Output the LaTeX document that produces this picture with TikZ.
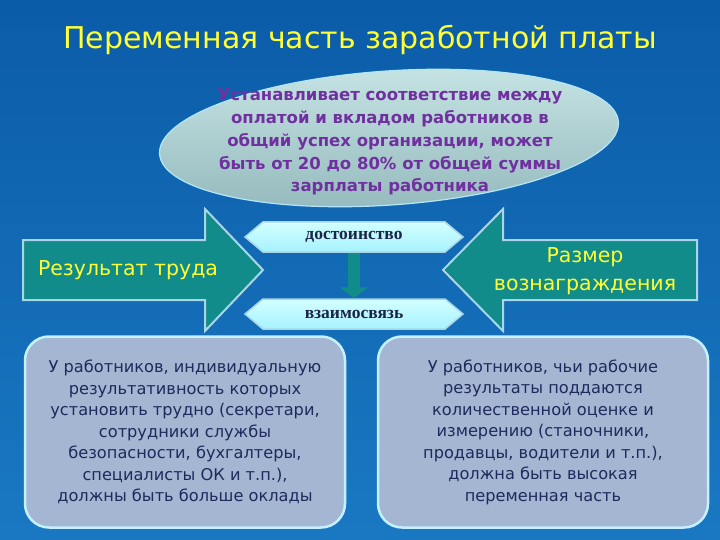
\documentclass[tikz,border=0pt]{standalone}
\usepackage{fontspec}
\setmainfont{DejaVu Sans}
\newfontfamily\hexfont{Liberation Serif}
\usetikzlibrary{shapes.symbols,arrows.meta}
\definecolor{bgtop}{HTML}{0B5CA8}
\definecolor{bgbottom}{HTML}{1A78C2}
\definecolor{titleyellow}{HTML}{FFFF33}
\definecolor{goalpurple}{HTML}{7030A0}
\definecolor{goaltop}{HTML}{C4E2E2}
\definecolor{goalmid}{HTML}{D6ECEC}
\definecolor{goalbottom}{HTML}{94B9BC}
\definecolor{arrowteal}{HTML}{128C8A}
\definecolor{arrowedge}{HTML}{A9D6E6}
\definecolor{hextop}{HTML}{D2FFFF}
\definecolor{hexbottom}{HTML}{A6F2FF}
\definecolor{hextext}{HTML}{1B2548}
\definecolor{boxfill}{HTML}{A4B6D2}
\definecolor{boxedge}{HTML}{C5F0FF}
\definecolor{boxtext}{HTML}{1F2A5C}

\begin{document}
\begin{tikzpicture}[x=1pt, y=-1pt,
    bigarrow/.style={fill=arrowteal, draw=arrowedge, line width=2pt},
    arrowlabel/.style={text=titleyellow, align=center, font=\fontsize{20.5}{28}\selectfont},
    hexbox/.style={signal, signal to=west and east, signal pointer angle=80,
      minimum width=218pt, minimum height=30pt, inner sep=0pt,
      draw=arrowedge, line width=1.5pt, top color=hextop, bottom color=hexbottom,
      text=hextext, font=\hexfont\bfseries\fontsize{17.5}{20}\selectfont},
    infobox/.style={rounded corners=24pt, draw=boxedge, line width=2.5pt,
      fill=boxfill, minimum height=191pt, align=center, text=boxtext,
      font=\fontsize{16.2}{21.5}\selectfont}]
    % background
    \shade[top color=bgtop, bottom color=bgbottom] (0,0) rectangle (720,540);
    \useasboundingbox (0,0) rectangle (720,540);
    % title
    \node[text=titleyellow, font=\fontsize{30}{36}\selectfont] (title) at (360,40)
      {Переменная часть заработной платы};
    % goal ellipse
    \shade[top color=goaltop, middle color=goalmid, bottom color=goalbottom,
      draw=white!70!cyan, line width=1.2pt, rotate around={4:(389,138)}]
      (389,138) ellipse[x radius=230, y radius=67];
    \node[text=goalpurple, align=center, font=\bfseries\fontsize{16.5}{22.8}\selectfont]
      (goal) at (390,142) {Устанавливает соответствие между\\
      оплатой и вкладом работников в\\ общий успех организации, может\\
      быть от 20 до 80\% от общей суммы\\ зарплаты работника};
    % big arrows
    \draw[bigarrow] (23,240) -- (205,240) -- (205,209) -- (263,270) -- (205,331)
      -- (205,300) -- (23,300) -- cycle;
    \draw[bigarrow] (697,240) -- (503,240) -- (503,209) -- (443,270) -- (503,331)
      -- (503,300) -- (697,300) -- cycle;
    \node[arrowlabel] (result) at (128,270) {Результат труда};
    \node[arrowlabel] (reward) at (585,271) {Размер\\ вознаграждения};
    % merit and link
    \node[hexbox] (merit) at (354,237) {достоинство};
    \node[hexbox] (link) at (354,314) {взаимосвязь};
    \draw[arrowteal, line width=12pt, -{Triangle[width=28pt, length=11pt]}]
      (merit.south) -- (link.north);
    % two groups of workers
    \node[infobox, minimum width=320pt] (fixed) at (185,432)
      {У работников, индивидуальную\\ результативность которых\\
      установить трудно (секретари,\\ сотрудники службы\\
      безопасности, бухгалтеры,\\ специалисты ОК и т.п.),\\
      должны быть больше оклады};
    \node[infobox, minimum width=330pt] (variable) at (543,432)
      {У работников, чьи рабочие\\ результаты поддаются\\
      количественной оценке и\\ измерению (станочники,\\
      продавцы, водители и т.п.),\\ должна быть высокая\\
      переменная часть};
  \end{tikzpicture}
\end{document}
